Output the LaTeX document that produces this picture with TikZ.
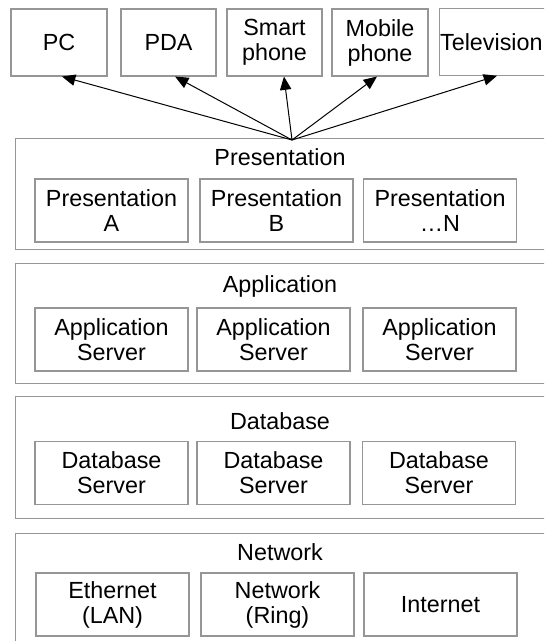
\documentclass[tikz,border=0pt]{standalone}
\usepackage{fontspec}
\setmainfont{Liberation Sans}
\usetikzlibrary{arrows.meta}
\definecolor{boxgray}{RGB}{150,150,150}
\begin{document}
\begin{tikzpicture}[x=0.75pt,y=-0.75pt,
  every node/.style={font=\fontsize{17.5}{18.75}\selectfont, align=center, inner sep=0pt},
  edge/.style={draw=boxgray, line width=0.8pt},
  topbox/.style={edge, minimum width=72pt, minimum height=50.25pt},
  openbox/.style={minimum width=408pt},
  innerbox/.style={edge, minimum width=114.75pt, minimum height=47.25pt},
  arr/.style={-{Triangle[length=10pt,width=8.5pt]}, line width=0.75pt, black}]
\useasboundingbox (0,0) rectangle (544,641);
\clip (0,0) rectangle (544,641);

% top devices
\node[topbox] (pc) at (59,42.5) {PC};
\node[topbox, minimum width=71.25pt] (pda) at (168.5,42.5) {PDA};
\node[topbox, minimum width=71.25pt] (smart) at (274.5,42.5) {Smart\\phone};
\node[topbox] (mobile) at (380,42.5) {Mobile\\phone};
\node[minimum width=105pt, minimum height=50.25pt] (tv) at (510,42) {\hspace*{-28pt}Television};
\draw[edge] (tv.north east) -- (tv.north west) -- (tv.south west) -- (tv.south east);

% layers
\node[openbox, minimum height=82.5pt] (pres) at (288,194) {};
\draw[edge] (pres.north east) -- (pres.north west) -- (pres.south west) -- (pres.south east);
\node (preslbl) at (280,157) {Presentation};
\node[innerbox] (pa) at (111.5,210.5) {Presentation\\A};
\node[innerbox] (pb) at (276.5,210.5) {Presentation\\B};
\node[innerbox] (pn) at (440,210.5) {Presentation\\\ldots N};

\node[openbox, minimum height=89.25pt] (app) at (288,323.5) {};
\draw[edge] (app.north east) -- (app.north west) -- (app.south west) -- (app.south east);
\node (applbl) at (280,286) {Application};
\node[innerbox] (a1) at (111.5,339.5) {Application\\Server};
\node[innerbox] (a2) at (273.5,339.5) {Application\\Server};
\node[innerbox] (a3) at (439.5,339.5) {Application\\Server};

\node[openbox, minimum height=90.75pt] (db) at (288,457.5) {};
\draw[edge] (db.north east) -- (db.north west) -- (db.south west) -- (db.south east);
\node (dblbl) at (280,421) {Database};
\node[innerbox] (d1) at (111.5,473) {Database\\Server};
\node[innerbox] (d2) at (273.5,473) {Database\\Server};
\node[innerbox] (d3) at (439,473) {Database\\Server};

\node[openbox, minimum height=90.75pt] (net) at (288,594.5) {};
\draw[edge] (net.north east) -- (net.north west) -- (net.south west) -- (net.south east);
\node (netlbl) at (280,552) {Network};
\node[innerbox] (n1) at (112.5,604.5) {Ethernet\\(LAN)};
\node[innerbox] (n2) at (277.5,604.5) {Network\\(Ring)};
\node[innerbox] (n3) at (440.5,604.5) {Internet};

% arrows
\coordinate (src) at (292,140);
\draw[arr] (src) -- ([xshift=2.25pt]pc.south);
\draw[arr] (src) -- ([xshift=4.9pt]pda.south);
\draw[arr] (src) -- ([xshift=7.1pt]smart.south);
\draw[arr] (src) -- ([xshift=-2.25pt]mobile.south);
\draw[arr] (src) -- ([xshift=-9.75pt]tv.south);
\end{tikzpicture}
\end{document}
